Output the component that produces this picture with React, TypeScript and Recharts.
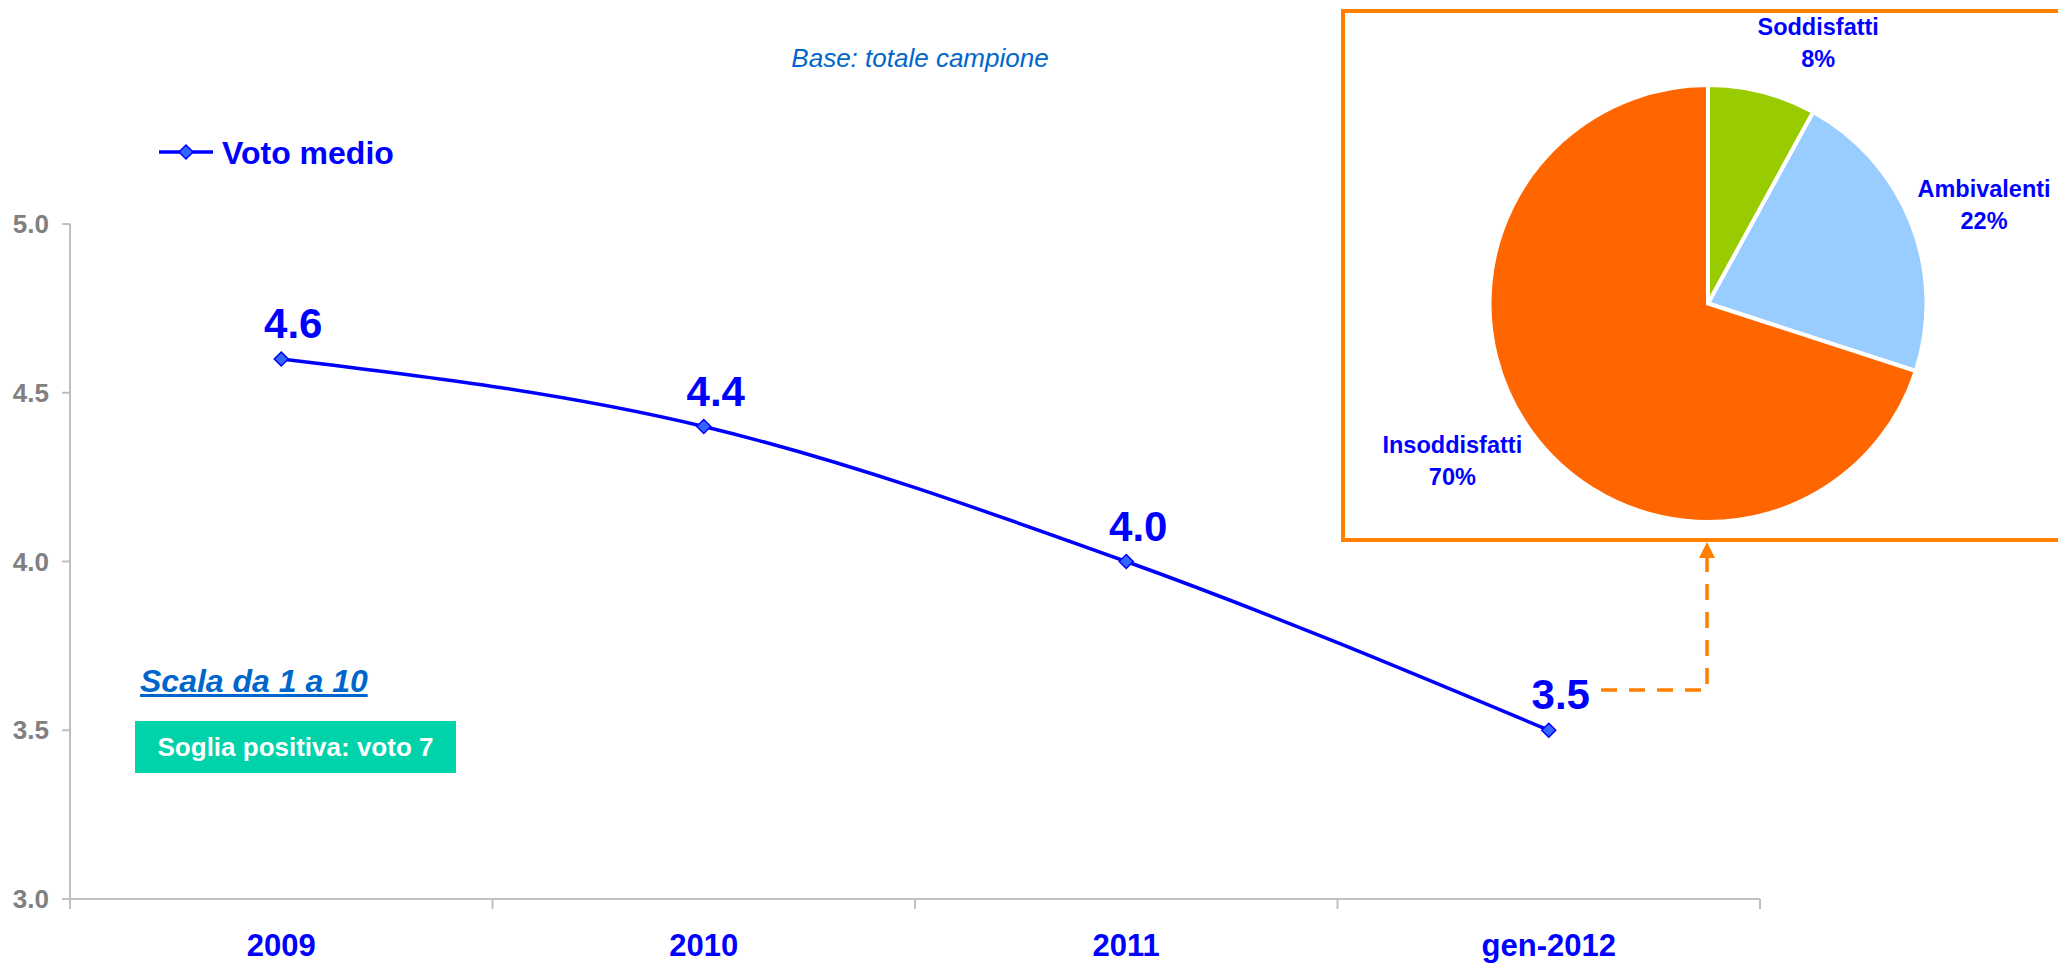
import {
  Legend,
  Line,
  LineChart,
  Pie,
  PieChart,
  Cell,
  XAxis,
  YAxis,
} from 'recharts';

const years = ['2009', '2010', '2011', 'gen-2012'];
const votoMedio = [4.6, 4.4, 4.0, 3.5];
const yTicks = [3.0, 3.5, 4.0, 4.5, 5.0];

const pieNames = ['Soddisfatti', 'Ambivalenti', 'Insoddisfatti'];
const pieValues = [8, 22, 70];
const pieColors = ['#99CC00', '#99CCFF', '#FF6600'];

const FONT = '"Liberation Sans", Arial, sans-serif';
const BLUE = '#0000FF';
const ORANGE = '#FF8000';

const lineData = years.map((y, i) => ({ year: y, voto: votoMedio[i] }));
const pieData = pieNames.map((n, i) => ({ name: n, value: pieValues[i] }));

function Diamond({ cx, cy }: any) {
  if (cx == null || cy == null) return null;
  const r = 7;
  return (
    <polygon
      points={`${cx},${cy - r} ${cx + r},${cy} ${cx},${cy + r} ${cx - r},${cy}`}
      fill="#3366FF"
      stroke={BLUE}
      strokeWidth={1.5}
    />
  );
}

function ValueLabel({ x, y, value }: any) {
  return (
    <text
      x={x + 12}
      y={y - 21}
      textAnchor="middle"
      fontFamily={FONT}
      fontWeight="bold"
      fontSize={42}
      fill={BLUE}
    >
      {Number(value).toFixed(1)}
    </text>
  );
}

// label in the middle of each band, tick marks on the band edges
function CategoryTick(props: any) {
  const { x, y, payload, index, width, visibleTicksCount } = props;
  const band = width / visibleTicksCount;
  const left = x - band / 2;
  return (
    <g>
      <line x1={left} x2={left} y1={y} y2={y + 10} stroke="#BFBFBF" strokeWidth={2} />
      {index === visibleTicksCount - 1 && (
        <line x1={x + band / 2} x2={x + band / 2} y1={y} y2={y + 10} stroke="#BFBFBF" strokeWidth={2} />
      )}
      <text
        x={x}
        y={y + 57}
        textAnchor="middle"
        fontFamily={FONT}
        fontWeight="bold"
        fontSize={31}
        fill={BLUE}
      >
        {payload.value}
      </text>
    </g>
  );
}

function LegendContent() {
  return (
    <svg width={260} height={44}>
      <line x1={4} x2={58} y1={22} y2={22} stroke={BLUE} strokeWidth={3.5} />
      <Diamond cx={31} cy={22} />
      <text
        x={67}
        y={22}
        dy="0.36em"
        fontFamily={FONT}
        fontWeight="bold"
        fontSize={32}
        fill={BLUE}
      >
        Voto medio
      </text>
    </svg>
  );
}

// outside-end labels, pushed out so the text block clears the slice edge
function PieLabel({ cx, cy, midAngle, outerRadius, name, value }: any) {
  const RAD = Math.PI / 180;
  const fs = 23.5;
  const halfW = (name.length * fs * 0.48) / 2;
  const cos = Math.cos(-midAngle * RAD);
  const sin = Math.sin(-midAngle * RAD);
  const r = outerRadius + 25;
  const lx = cx + r * cos + Math.sign(cos) * 0.8 * halfW;
  const ly = cy + r * sin + sin * 25;
  return (
    <text
      textAnchor="middle"
      dominantBaseline="central"
      fontFamily={FONT}
      fontWeight="bold"
      fontSize={fs}
      fill={BLUE}
    >
      <tspan x={lx} y={ly - 16}>{name}</tspan>
      <tspan x={lx} y={ly + 16}>{`${value}%`}</tspan>
    </text>
  );
}

export default function App() {
  return (
    <div
      style={{
        position: 'absolute',
        left: 0,
        top: 0,
        width: 2058,
        height: 964,
        overflow: 'hidden',
        background: '#fff',
        fontFamily: FONT,
      }}
    >
      <LineChart
        width={2058}
        height={964}
        data={lineData}
        margin={{ top: 224, right: 298, bottom: 0, left: 10 }}
      >
        <XAxis
          dataKey="year"
          scale="band"
          height={65}
          tickLine={false}
          tickSize={0}
          tickMargin={0}
          interval={0}
          stroke="#BFBFBF"
          strokeWidth={2}
          tick={<CategoryTick />}
        />
        <YAxis
          domain={[3, 5]}
          ticks={yTicks}
          width={60}
          tickSize={8}
          tickMargin={13}
          stroke="#BFBFBF"
          strokeWidth={2}
          tickFormatter={(v) => Number(v).toFixed(1)}
          tick={{ fontFamily: FONT, fontWeight: 'bold', fontSize: 26, fill: '#808080' }}
        />
        <Legend
          layout="vertical"
          align="center"
          verticalAlign="middle"
          content={<LegendContent />}
          wrapperStyle={{ left: 155, top: 130, width: 260, height: 44 }}
        />
        <Line
          type="monotone"
          dataKey="voto"
          stroke={BLUE}
          strokeWidth={3.5}
          dot={<Diamond />}
          activeDot={false}
          label={<ValueLabel />}
          isAnimationActive={false}
        />
      </LineChart>

      <div
        style={{
          position: 'absolute',
          left: 0,
          top: 40,
          width: 1840,
          textAlign: 'center',
          fontStyle: 'italic',
          fontSize: 26,
          color: '#0066CC',
          lineHeight: '36px',
        }}
      >
        Base: totale campione
      </div>

      <div
        style={{
          position: 'absolute',
          left: 140,
          top: 663,
          fontStyle: 'italic',
          fontWeight: 'bold',
          fontSize: 32,
          color: '#0066CC',
          textDecoration: 'underline',
          lineHeight: '36px',
        }}
      >
        Scala da 1 a 10
      </div>

      <div
        style={{
          position: 'absolute',
          left: 135,
          top: 721,
          width: 321,
          height: 52,
          background: '#00D2AA',
          color: '#fff',
          fontWeight: 'bold',
          fontSize: 26,
          lineHeight: '52px',
          textAlign: 'center',
        }}
      >
        Soglia positiva: voto 7
      </div>

      <div
        style={{
          position: 'absolute',
          left: 1341,
          top: 9,
          width: 800,
          height: 533,
          boxSizing: 'border-box',
          border: `4px solid ${ORANGE}`,
        }}
      />

      <div style={{ position: 'absolute', left: 1341, top: 9 }}>
        <PieChart width={717} height={533} margin={{ top: 0, right: 0, bottom: 0, left: 0 }}>
          <Pie
            data={pieData}
            dataKey="value"
            nameKey="name"
            cx={367}
            cy={294.5}
            outerRadius={218.5}
            startAngle={90}
            endAngle={-270}
            stroke="#fff"
            strokeWidth={4}
            label={PieLabel}
            labelLine={false}
            isAnimationActive={false}
          >
            {pieData.map((d, i) => (
              <Cell key={d.name} fill={pieColors[i]} />
            ))}
          </Pie>
        </PieChart>
      </div>

      <svg
        width={2058}
        height={964}
        style={{ position: 'absolute', left: 0, top: 0, pointerEvents: 'none' }}
      >
        <path
          d="M1601,690 H1707 V558"
          fill="none"
          stroke={ORANGE}
          strokeWidth={3.5}
          strokeDasharray="16 12"
        />
        <polygon points="1707,542 1699,558 1715,558" fill={ORANGE} />
      </svg>
    </div>
  );
}
